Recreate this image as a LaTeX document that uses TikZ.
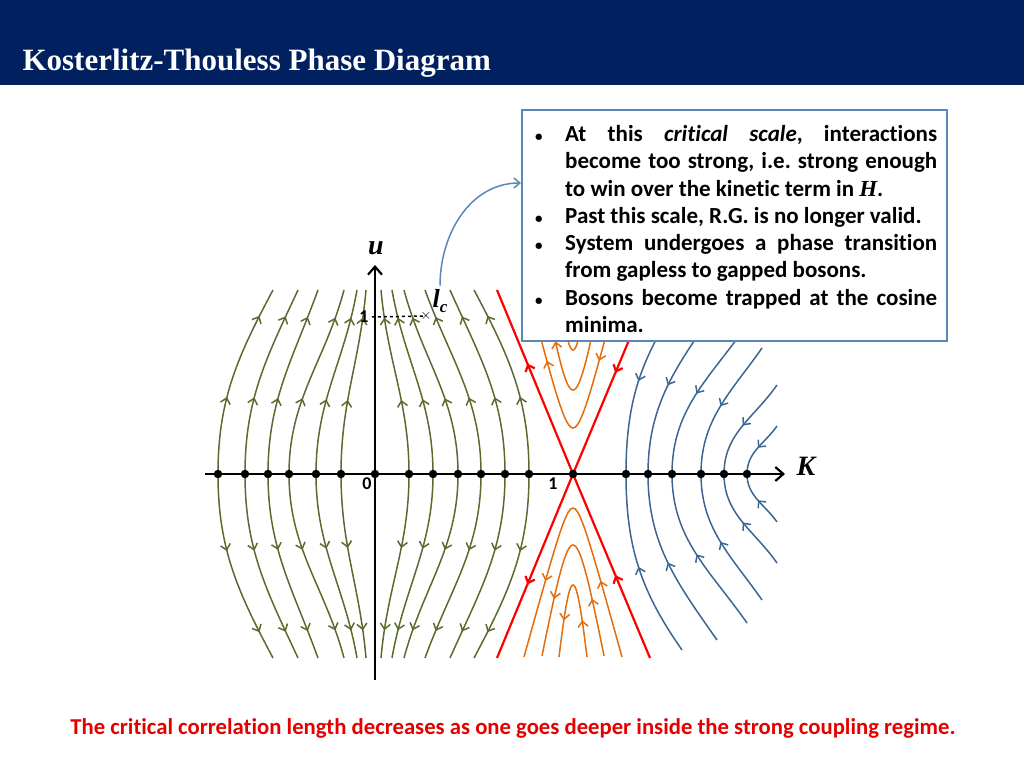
\documentclass[tikz,border=0pt]{standalone}
\usepackage{fontspec}
\setmainfont[Ligatures={NoCommon}]{Carlito}
\newfontfamily\timesfont{Liberation Serif}
\usetikzlibrary{arrows.meta,decorations.markings}
\definecolor{navy}{HTML}{002060}
\definecolor{olive}{HTML}{5A6B2E}
\definecolor{flowred}{HTML}{FF0000}
\definecolor{amber}{HTML}{E46C0A}
\definecolor{steel}{HTML}{3C6593}
\definecolor{callout}{HTML}{5B86B8}
\tikzset{
  barb/.tip={Straight Barb[length=5.5pt,width=10pt]},
  twoflow/.style={postaction={decorate},decoration={markings,
    mark=at position 0.4 with {\arrow{barb}},
    mark=at position 0.85 with {\arrow{barb}}}},
  legflow/.style={postaction={decorate},decoration={markings,
    mark=at position 0.25 with {\arrow{barb}},
    mark=at position 0.75 with {\arrow{barb}}}},
  oneflow/.style={postaction={decorate},decoration={markings,
    mark=at position #1 with {\arrow{barb}}}},
  oneflow/.default=0.5,
  flowline/.style={line width=1.5pt},
  fixpt/.style={circle,fill=black,inner sep=0pt,minimum size=8.5pt},
  ticklbl/.style={font=\fontsize{18}{18}\selectfont\bfseries,inner sep=0pt}
}
\begin{document}
\begin{tikzpicture}[x=1pt,y=1pt]
\useasboundingbox (0,0) rectangle (1024,768);
% title banner
\fill[navy] (0,683) rectangle (1024,768);
\node[anchor=west,text=white,font=\timesfont\fontsize{31}{31}\selectfont\bfseries] (title) at (19,705) {Kosterlitz-Thouless Phase Diagram};
% K < 1 : green flow
\foreach \xd/\xt/\ang in {218/273/-118,245/298/-115,268/318/-110,289/344/-105,316/357/-100,341/366/-95,409/381/-85,433/392/-80,458/404/-75,481/425/-70,505/450/-66,529/474/-62}{
  \coordinate (g-\xd) at (\xd,294);
  \draw[olive,flowline,twoflow] (g-\xd) to[out=90,in=\ang] (\xt,478);
  \draw[olive,flowline,twoflow] (g-\xd) to[out=-90,in=-\ang] (\xt,110);
}
% orange arcs
\foreach \h/\aa/\s in {49/34/3.67,31/71/5.4,14/111/10.4}
  \draw[amber,flowline,legflow] plot[domain=\h:-\h,samples=41] ({573+\x},{294-veclen(\aa,\s*\x)});
\foreach \h/\aa/\s in {45/46/3.96,28/84/5.85,14/124/9.7}
  \draw[amber,flowline,legflow] plot[domain=\h:-\h,samples=41] ({573+\x},{294+veclen(\aa,\s*\x)});
% separatrices
\coordinate (kt) at (573,294);
\draw[flowred,line width=2.2pt,oneflow=0.6] (kt) -- (497,478);
\draw[flowred,line width=2.2pt,oneflow=0.45] (650,110) -- (kt);
\draw[flowred,line width=2.2pt,oneflow=0.45] (650,478) -- (kt);
\draw[flowred,line width=2.2pt,oneflow=0.6] (kt) -- (497,110);
% K > 1 : blue flow
\foreach \xd/\xb/\yb in {626/682/118,648/717/128,672/747/145,701/762/168,724/777/205,747/777/246}{
  \coordinate (b-\xd) at (\xd,294);
  \draw[steel,flowline,oneflow] (\xb,588-\yb) to[out=235,in=90] (b-\xd);
  \draw[steel,flowline,oneflow] (\xb,\yb) to[out=125,in=-90] (b-\xd);
}
% axes
\draw[line width=2.2pt,-{Straight Barb[length=8pt,width=14pt]}] (205,294) -- (785,294) coordinate (kend);
\draw[line width=2.2pt,-{Straight Barb[length=8pt,width=14pt]}] (375,88) -- (375,503) coordinate (uend);
\node[font=\timesfont\fontsize{28}{28}\selectfont\bfseries\itshape] (klbl) at (806,302) {K};
\node[font=\timesfont\fontsize{28}{28}\selectfont\bfseries\itshape] (ulbl) at (376,520) {u};
\foreach \xd in {218,245,268,289,316,341,375,409,433,458,481,505,529,573,626,648,672,701,724,747}
  \node[fixpt] (d-\xd) at (\xd,294) {};
\node[ticklbl] (zero) at (367,284) {0};
\node[ticklbl] (one) at (553,284) {1};
\node[ticklbl] (uone) at (364,451) {1};
% critical scale
\node[inner sep=0pt,font=\fontsize{15}{15}\selectfont] (cross) at (426,452) {$\times$};
\draw[dashed,line width=1.5pt] (uone.east) ++(3,0) -- (cross.center);
\node[font=\timesfont\fontsize{26}{26}\selectfont\bfseries\itshape,anchor=south] (lc) at (440,452) {l\raisebox{-5pt}{\fontsize{17}{17}\selectfont c}};
% callout
\draw[callout,line width=1.5pt,fill=white] (522,658) rectangle (947,427);
\node[anchor=north west,inner sep=0pt,text width=402pt,align=justify,font=\fontsize{23}{27.3}\selectfont\bfseries] (notes) at (535,654) {%
\hyphenpenalty=10000\exhyphenpenalty=10000\frenchspacing
\newcommand\itm{\par\noindent\hangindent=30pt\hangafter=1\makebox[30pt][l]{\fontsize{15}{15}\selectfont•}}%
\itm At this \textit{critical scale}, interactions become too strong, i.e. strong enough to win over the kinetic term in {\timesfont\itshape H}.
\itm Past this scale, R.G. is no longer valid.
\itm System undergoes a phase transition from gapless to gapped bosons.
\itm Bosons become trapped at the cosine minima.\par};
\draw[callout,line width=1.5pt,-{Straight Barb[length=6pt,width=10pt]}] (lc.north) to[out=90,in=180] (521,585);
% conclusion
\node[text=flowred!90!black,font=\fontsize{22.7}{22.7}\selectfont\bfseries] (concl) at (513,40) {The critical correlation length decreases as one goes deeper inside the strong coupling regime.};
\end{tikzpicture}
\end{document}
